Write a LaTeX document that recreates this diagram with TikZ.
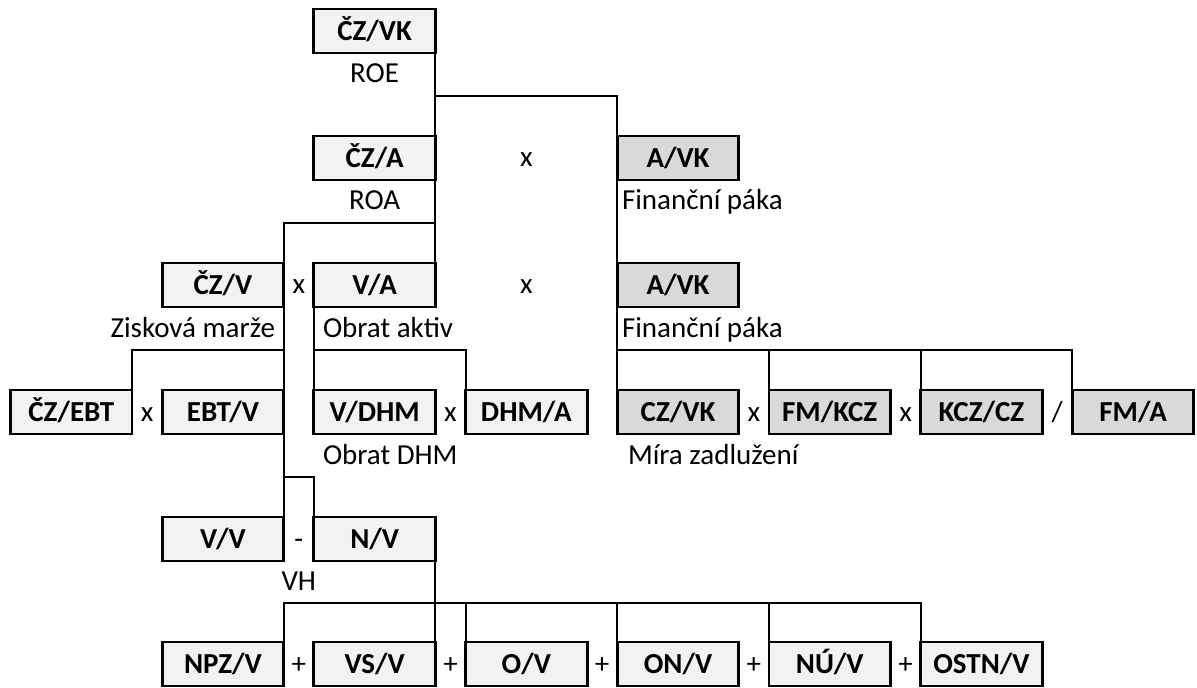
\documentclass[tikz,border=0pt]{standalone}
\usepackage{fontspec}
\setmainfont{Carlito}
\definecolor{lightg}{HTML}{F2F2F2}
\definecolor{darkg}{HTML}{D9D9D9}
\begin{document}
\begin{tikzpicture}[x=0.75pt,y=-0.75pt,
  box/.style={draw=black, line width=2.2pt, minimum width=91.1pt, minimum height=33pt,
    inner sep=0pt, outer sep=0pt, anchor=north west,
    font=\fontsize{21.75}{24}\selectfont\bfseries, text height=14pt, text depth=0pt},
  lbox/.style={box, fill=lightg},
  dbox/.style={box, fill=darkg},
  conn/.style={line width=1.5pt},
  lbl/.style={font=\fontsize{21.75}{24}\selectfont, inner sep=0pt, outer sep=0pt},
  op/.style={lbl, anchor=base}]
\useasboundingbox (0,0) rectangle (1197,688);
% levels of the horizontal connectors
\coordinate (h0) at (0,96);
\coordinate (h1) at (0,223);
\coordinate (h2) at (0,350);
\coordinate (h3) at (0,477);
\coordinate (h4) at (0,603);
% row 0
\node[lbox] (czvk) at (313.9,9) {ČZ/VK};
% row 1
\node[lbox] (cza) at (313.9,136) {ČZ/A};
\node[dbox] (avkA) at (617.3,136) {A/VK};
% row 2
\node[lbox] (czv) at (162.2,263) {ČZ/V};
\node[lbox] (va) at (313.9,263) {V/A};
\node[dbox] (avkB) at (617.3,263) {A/VK};
% row 3
\node[lbox] (czebt) at (10.5,390) {ČZ/EBT};
\node[lbox] (ebtv) at (162.2,390) {EBT/V};
\node[lbox] (vdhm) at (313.9,390) {V/DHM};
\node[lbox] (dhma) at (465.6,390) {DHM/A};
\node[dbox] (czvkB) at (617.3,390) {CZ/VK};
\node[dbox] (fmkcz) at (769.0,390) {FM/KCZ};
\node[dbox] (kczcz) at (920.7,390) {KCZ/CZ};
\node[dbox] (fma) at (1072.4,390) {FM/A};
% row 4
\node[lbox] (vv) at (162.2,517) {V/V};
\node[lbox] (nv) at (313.9,517) {N/V};
% row 5
\node[lbox] (npzv) at (162.2,642) {NPZ/V};
\node[lbox] (vsv) at (313.9,642) {VS/V};
\node[lbox] (ov) at (465.6,642) {O/V};
\node[lbox] (onv) at (617.3,642) {ON/V};
\node[lbox] (nuv) at (769.0,642) {NÚ/V};
\node[lbox] (ostnv) at (920.7,642) {OSTN/V};
% operators
\node[op] (o1) at (526.35,167) {x};
\node[op] (o2) at (298.8,294) {x};
\node[op] (o3) at (526.35,294) {x};
\node[op] (o4) at (147.1,421) {x};
\node[op] (o5) at (450.5,421) {x};
\node[op] (o6) at (753.9,421) {x};
\node[op] (o7) at (905.6,421) {x};
\node[op] (o8) at (1057.3,421) {/};
\node[op] (o9) at (298.8,548) {-};
\node[op] (p1) at (298.8,673) {+};
\node[op] (p2) at (450.5,673) {+};
\node[op] (p3) at (602.2,673) {+};
\node[op] (p4) at (753.9,673) {+};
\node[op] (p5) at (905.6,673) {+};
% labels
\node[lbl, anchor=base] (roe) at (374.65,83) {ROE};
\node[lbl, anchor=base] (roa) at (374.65,210) {ROA};
\node[lbl, anchor=base west] (fp1) at (622,210) {Finanční páka};
\node[lbl, anchor=base east] (zm) at (275,337) {Zisková marže};
\node[lbl, anchor=base west] (oa) at (323,337) {Obrat aktiv};
\node[lbl, anchor=base west] (fp2) at (622,337) {Finanční páka};
\node[lbl, anchor=base west] (od) at (323,464) {Obrat DHM};
\node[lbl, anchor=base west] (mz) at (628,464) {Míra zadlužení};
\node[lbl, anchor=base] (vh) at (298.8,590) {VH};
% connectors
\draw[conn] (czvk.south east) -- (cza.north east);
\draw[conn] (czvk.south east |- h0) -| (avkA.north west);
\draw[conn] (cza.south east) -- (va.north east);
\draw[conn] (cza.south east |- h1) -| (czv.north east);
\draw[conn] (avkA.south west) -- (avkB.north west);
\draw[conn] (avkB.south west) -- (czvkB.north west);
\draw[conn] (avkB.south west |- h2) -| (fma.north west);
\draw[conn] (fmkcz.north west) -- (fmkcz.north west |- h2);
\draw[conn] (kczcz.north west) -- (kczcz.north west |- h2);
\draw[conn] (czv.south east) -- (ebtv.north east);
\draw[conn] (czv.south east |- h2) -| (czebt.north east);
\draw[conn] (va.south west) -- (vdhm.north west);
\draw[conn] (va.south west |- h2) -| (dhma.north west);
\draw[conn] (ebtv.south east) -- (vv.north east);
\draw[conn] (ebtv.south east |- h3) -| (nv.north west);
\draw[conn] (nv.south east) -- (vsv.north east);
\draw[conn] (npzv.north east) |- (ostnv.north west |- h4) -- (ostnv.north west);
\draw[conn] (ov.north west) -- (ov.north west |- h4);
\draw[conn] (onv.north west) -- (onv.north west |- h4);
\draw[conn] (nuv.north west) -- (nuv.north west |- h4);
\end{tikzpicture}
\end{document}
